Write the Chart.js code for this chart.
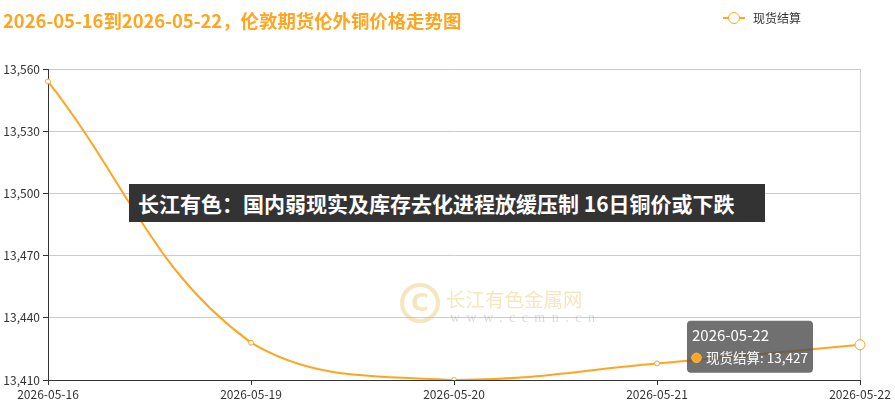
<!DOCTYPE html>
<html>
<head>
<meta charset="utf-8">
<script src="https://cdn.jsdelivr.net/npm/chart.js@4"></script>
<style>
  html, body { margin: 0; padding: 0; background: #fff; }
  #wrap { position: relative; width: 895px; height: 407px; overflow: hidden; font-family: "Noto Sans CJK SC", "Noto Sans", sans-serif; }
  #titulo { position: absolute; left: 3px; top: 7px; font-size: 18.4px; font-weight: bold; color: #FFA51F; white-space: nowrap; }
  #legenda { position: absolute; left: 723px; top: 9px; font-size: 12px; color: #333; display: flex; align-items: center; }
  #legenda .mk { position: relative; width: 22px; height: 12px; margin-right: 8px; }
  #legenda .mk:before { content: ""; position: absolute; left: 0; right: 0; top: 5px; height: 2px; background: #FFA51F; }
  #legenda .mk:after { content: ""; position: absolute; left: 5px; top: 0; width: 10px; height: 10px; border: 1px solid #FFA51F; border-radius: 50%; background: #fff; }
  #faixa { position: absolute; left: 129px; top: 184px; width: 636px; height: 38px; background: #333; color: #fff; font-size: 21px; font-weight: bold; line-height: 38px; padding-left: 9px; box-sizing: border-box; white-space: nowrap; }
  #marca { position: absolute; left: 0; top: 0; pointer-events: none; opacity: 0.35; }
  #marca .logo { position: absolute; left: 400px; top: 283px; width: 32px; height: 32px; border: 4px solid #E0B94A; border-radius: 50%; }
  #marca .logo:after { content: "C"; position: absolute; left: 7px; top: 0px; font-size: 24px; font-weight: bold; color: #E0B94A; font-family: "DejaVu Sans", sans-serif; line-height: 32px; }
  #marca .nome { position: absolute; left: 446px; top: 284px; font-size: 19.5px; color: #E0B94A; white-space: nowrap; }
  #marca .url { position: absolute; left: 450px; top: 310px; font-size: 14px; color: #999; letter-spacing: 6.5px; font-family: "Liberation Serif", serif; white-space: nowrap; }
  canvas { position: absolute; left: 0; top: 0; }
</style>
</head>
<body>
<div id="wrap">
  <canvas id="lineChart" width="895" height="407"></canvas>
  <div id="titulo">2026-05-16到2026-05-22，伦敦期货伦外铜价格走势图</div>
  <div id="legenda"><span class="mk"></span>现货结算</div>
  <div id="marca"><div class="logo"></div><div class="nome">长江有色金属网</div><div class="url">www.ccmn.cn</div></div>
  <div id="faixa">长江有色：国内弱现实及库存去化进程放缓压制 16日铜价或下跌</div>
</div>
<script>
//  dados do grafico
const datas = ['2026-05-16', '2026-05-19', '2026-05-20', '2026-05-21', '2026-05-22'];
const valoresSpot = [13554, 13428, 13410, 13418, 13427];
const nomeSerie = '现货结算';
const eixoY = { min: 13410, max: 13560, passo: 30 };

const LARANJA = '#FFA51F';
const FONTE = '"Noto Sans CJK SC", "Noto Sans", sans-serif';

// tooltip a esquerda do ponto
Chart.Tooltip.positioners.aEsquerda = function (items) {
    if (!items.length) return false;
    const el = items[0].element;
    return { x: el.x - 47, y: el.y + 2, xAlign: 'right', yAlign: 'center' };
};

const ctx = document.getElementById('lineChart').getContext('2d');
const lineChart = new Chart(ctx, {
    type: 'line',
    data: {
        labels: datas,
        datasets: [{
            label: nomeSerie,
            data: valoresSpot,
            borderColor: LARANJA,
            borderWidth: 2,
            backgroundColor: '#fff',
            pointBackgroundColor: '#fff',
            pointBorderColor: LARANJA,
            pointBorderWidth: 1,
            pointRadius: 2.5,
            pointHoverRadius: 5,
            pointHoverBorderWidth: 1,
            pointHoverBackgroundColor: '#fff',
            pointHoverBorderColor: LARANJA,
            tension: 0.4,
            fill: false
        }]
    },
    options: {
        responsive: false,
        animation: false,
        locale: 'en-US',
        layout: { padding: { top: 69, right: 35, left: 0, bottom: 0 } },
        events: [],
        plugins: {
            legend: { display: false },
            title: { display: false },
            tooltip: {
                position: 'aEsquerda',
                backgroundColor: 'rgba(80,80,80,0.82)',
                caretSize: 0,
                caretPadding: 0,
                cornerRadius: 4,
                padding: { left: 5, right: 5, top: 6, bottom: 7 },
                titleFont: { family: FONTE, size: 15, weight: 'normal' },
                titleColor: '#fff',
                titleMarginBottom: 5,
                bodyFont: { family: FONTE, size: 13.5 },
                bodyColor: '#fff',
                usePointStyle: true,
                boxWidth: 9,
                boxHeight: 9,
                boxPadding: 3,
                callbacks: {
                    label: (c) => c.dataset.label + ': ' + c.parsed.y.toLocaleString('en-US'),
                    labelColor: () => ({ borderColor: LARANJA, backgroundColor: LARANJA }),
                    labelPointStyle: () => ({ pointStyle: 'circle', rotation: 0 })
                }
            }
        },
        scales: {
            x: {
                offset: false,
                afterFit: (s) => { s.height = 27; },
                border: { color: '#333', width: 1 },
                grid: {
                    drawTicks: true,
                    tickLength: 5,
                    tickColor: '#333',
                    color: (c) => c.index === datas.length - 1 ? '#ccc' : 'rgba(0,0,0,0)'
                },
                ticks: {
                    color: '#333',
                    font: { family: FONTE, size: 12 },
                    padding: 2,
                    maxRotation: 0,
                    autoSkip: false
                }
            },
            y: {
                min: eixoY.min,
                max: eixoY.max,
                afterFit: (s) => { s.width = 48; },
                border: { color: '#333', width: 1 },
                grid: {
                    color: '#ccc',
                    drawTicks: true,
                    tickLength: 5,
                    tickColor: '#333'
                },
                ticks: {
                    stepSize: eixoY.passo,
                    color: '#333',
                    font: { family: FONTE, size: 12 },
                    padding: 3,
                    callback: (v) => Number(v).toLocaleString('en-US')
                }
            }
        }
    }
});

// deixa o ultimo ponto ativo com tooltip
const ultimo = datas.length - 1;
const pt = lineChart.getDatasetMeta(0).data[ultimo];
lineChart.setActiveElements([{ datasetIndex: 0, index: ultimo }]);
lineChart.tooltip.setActiveElements([{ datasetIndex: 0, index: ultimo }], { x: pt.x, y: pt.y });
lineChart.update();
</script>
</body>
</html>
